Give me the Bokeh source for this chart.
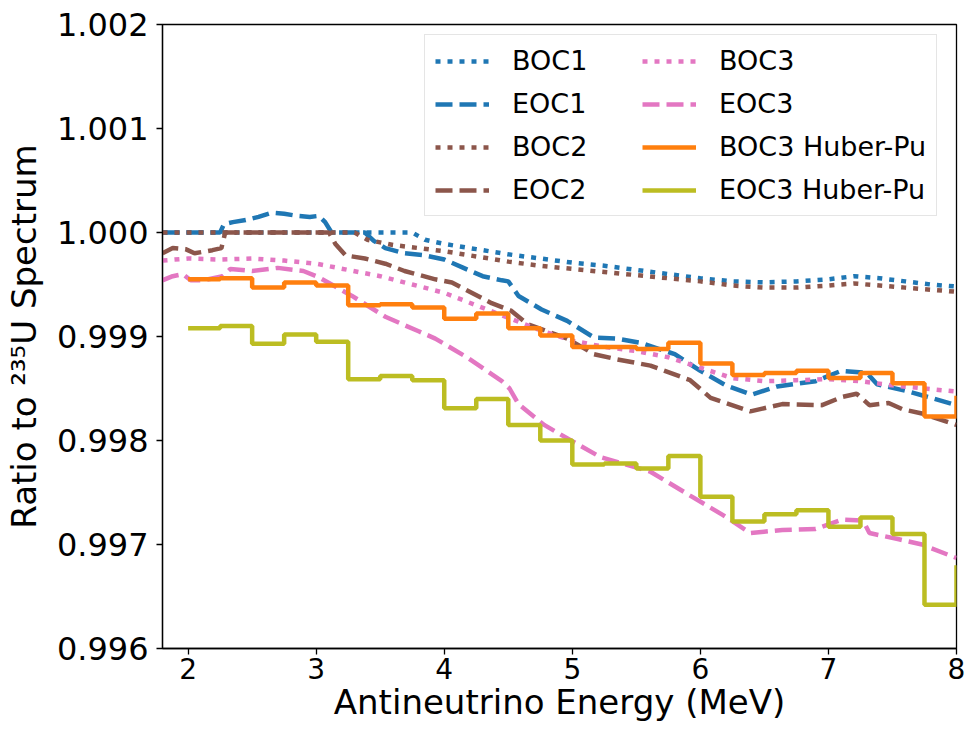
from bokeh.plotting import figure
from bokeh.models import Legend, LegendItem, FixedTicker, PrintfTickFormatter, Range1d
from bokeh.embed import file_html
from bokeh.resources import INLINE

# ---------------- data ----------------
XTICKS = [2, 3, 4, 5, 6, 7, 8]
YTICKS = [0.996, 0.997, 0.998, 0.999, 1.000, 1.001, 1.002]

E_BOC1 = [1.8, 3.75, 3.85, 4.0, 4.25, 4.5, 4.75, 5.0, 5.25, 5.5, 5.75, 6.0, 6.25,
          6.5, 6.75, 7.0, 7.2, 7.4, 7.6, 7.8, 8.0]
BOC1 = [1.0, 1.0, 0.99993, 0.99989, 0.99984, 0.99979, 0.99975, 0.99971, 0.99968,
        0.99964, 0.9996, 0.99956, 0.99953, 0.99952, 0.99953, 0.99955, 0.99958,
        0.99956, 0.99953, 0.9995, 0.99948]

E_EOC1 = [1.8, 2.25, 2.28, 2.35, 2.45, 2.55, 2.65, 2.75, 2.85, 2.95, 3.02, 3.07, 3.12,
          3.38, 3.45, 3.54, 3.69, 3.85, 4.0, 4.15, 4.3, 4.45, 4.5, 4.58, 4.76, 4.96,
          5.17, 5.35, 5.53, 5.8, 6.0, 6.2, 6.4, 6.6, 6.9, 7.1, 7.3, 7.38, 7.63, 7.8, 8.0]
EOC1 = [1.0, 1.0, 1.00008, 1.0001, 1.00012, 1.00015, 1.00019, 1.00018, 1.00016,
        1.00015, 1.00016, 1.0001, 1.0, 1.0, 0.99992, 0.99985, 0.9998, 0.99978,
        0.99974, 0.99966, 0.99958, 0.99954, 0.99953, 0.99939, 0.99926, 0.99915,
        0.99899, 0.99898, 0.99894, 0.99883, 0.99867, 0.99853, 0.99844, 0.99852,
        0.99857, 0.99867, 0.99865, 0.99854, 0.99847, 0.99841, 0.99834]

E_BOC2 = [1.8, 3.3, 3.4, 3.6, 3.8, 4.0, 4.25, 4.5, 4.75, 5.0, 5.25, 5.5, 5.75, 6.0,
          6.25, 6.5, 6.75, 7.0, 7.2, 7.4, 7.6, 7.8, 8.0]
BOC2 = [1.0, 1.0, 0.99993, 0.99988, 0.99985, 0.99982, 0.99977, 0.99972, 0.99968,
        0.99965, 0.99962, 0.99959, 0.99956, 0.99953, 0.99949, 0.99947, 0.99947,
        0.99949, 0.99951, 0.99949, 0.99947, 0.99945, 0.99943]

E_EOC2 = [1.8, 1.88, 1.98, 2.05, 2.19, 2.26, 2.29, 3.1, 3.15, 3.23, 3.38, 3.54, 3.69,
          3.93, 4.06, 4.37, 4.52, 4.65, 4.96, 5.17, 5.35, 5.61, 5.92, 6.08, 6.39,
          6.64, 6.95, 7.11, 7.22, 7.32, 7.47, 7.58, 7.73, 8.0]
EOC2 = [0.9998, 0.99985, 0.99984, 0.9998, 0.99983, 0.99985, 1.0, 1.0, 0.99989,
        0.99978, 0.99975, 0.9997, 0.99963, 0.99955, 0.99952, 0.99932, 0.99925,
        0.99912, 0.99898, 0.99883, 0.99878, 0.99872, 0.99858, 0.99841, 0.99828,
        0.99835, 0.99834, 0.99842, 0.99845, 0.99834, 0.99836, 0.9983, 0.99826, 0.99815]

E_BOC3 = [1.8, 2.0, 2.25, 2.5, 2.75, 3.0, 3.25, 3.5, 3.75, 4.0, 4.25, 4.5, 4.75, 5.0,
          5.25, 5.5, 5.75, 6.0, 6.25, 6.5, 6.75, 7.0, 7.25, 7.5, 7.75, 8.0]
BOC3 = [0.99973, 0.99975, 0.99974, 0.99975, 0.99973, 0.9997, 0.99964, 0.99958,
        0.9995, 0.99942, 0.9993, 0.99918, 0.99906, 0.99896, 0.9989, 0.99886, 0.9988,
        0.9987, 0.9986, 0.99857, 0.99858, 0.99859, 0.99857, 0.99853, 0.9985, 0.99847]

E_EOC3 = [1.8, 1.88, 1.96, 2.02, 2.12, 2.27, 2.33, 2.5, 2.7, 2.9, 3.02, 3.28, 3.54,
          3.8, 3.93, 4.19, 4.45, 4.51, 4.58, 4.78, 4.99, 5.22, 5.61, 5.92, 6.18, 6.39,
          6.64, 6.9, 7.11, 7.27, 7.32, 7.55, 7.73, 8.0]
EOC3 = [0.99954, 0.99958, 0.9996, 0.99954, 0.99954, 0.99958, 0.99965, 0.99963,
        0.99966, 0.99963, 0.99957, 0.99939, 0.99919, 0.99905, 0.99898, 0.99879,
        0.99857, 0.9985, 0.99835, 0.99815, 0.998, 0.99784, 0.9977, 0.99747, 0.99728,
        0.99711, 0.99714, 0.99715, 0.99724, 0.99723, 0.99711, 0.99705, 0.997, 0.99687]

# Huber-Pu step series: bin left edges (0.25 MeV bins) plus closing point at 8 MeV
E_HUBER = [2.0, 2.25, 2.5, 2.75, 3.0, 3.25, 3.5, 3.75, 4.0, 4.25, 4.5, 4.75, 5.0,
           5.25, 5.5, 5.75, 6.0, 6.25, 6.5, 6.75, 7.0, 7.25, 7.5, 7.75, 8.0]
BOC3_HUBER = [0.99955, 0.99956, 0.99947, 0.99952, 0.99949, 0.9993, 0.99931, 0.99928,
              0.99917, 0.99922, 0.99908, 0.99901, 0.9989, 0.9989, 0.99888, 0.99894,
              0.99874, 0.99863, 0.99865, 0.99867, 0.9986, 0.99865, 0.99855, 0.99823,
              0.99843]
EOC3_HUBER = [0.99908, 0.9991, 0.99893, 0.99902, 0.99895, 0.99859, 0.99862, 0.99858,
              0.99831, 0.9984, 0.99815, 0.998, 0.99777, 0.99778, 0.99773, 0.99785,
              0.99746, 0.99722, 0.99729, 0.99733, 0.99717, 0.99726, 0.9971, 0.99642,
              0.9968]

# ---------------- styles ----------------
FONT = "DejaVu Sans"
BLUE, BROWN, PINK, ORANGE, OLIVE = "#1f77b4", "#8c564b", "#e377c2", "#ff7f0e", "#bcbd22"
LW = 4.5
DOT = "5 7"
DASH = "17 7"

p = figure(width=966, height=728,
           x_range=Range1d(1.8, 8.0), y_range=Range1d(0.996, 1.002),
           output_backend="svg", toolbar_location=None,
           min_border_left=162, min_border_right=10,
           min_border_top=24, min_border_bottom=80)
p.grid.visible = False
p.outline_line_color = "black"
p.outline_line_width = 1.3
p.background_fill_color = "white"
p.border_fill_color = "white"

r_boc1 = p.line(E_BOC1, BOC1, line_color=BLUE, line_width=LW, line_dash=DOT)
r_eoc1 = p.line(E_EOC1, EOC1, line_color=BLUE, line_width=LW, line_dash=DASH)
r_boc2 = p.line(E_BOC2, BOC2, line_color=BROWN, line_width=LW, line_dash=DOT)
r_eoc2 = p.line(E_EOC2, EOC2, line_color=BROWN, line_width=LW, line_dash=DASH)
r_boc3 = p.line(E_BOC3, BOC3, line_color=PINK, line_width=LW, line_dash=DOT)
r_eoc3 = p.line(E_EOC3, EOC3, line_color=PINK, line_width=LW, line_dash=DASH)
r_bh = p.step(E_HUBER, BOC3_HUBER, mode="after", line_color=ORANGE, line_width=LW)
r_eh = p.step(E_HUBER, EOC3_HUBER, mode="after", line_color=OLIVE, line_width=LW)

# axes
for ax in (p.xaxis, p.yaxis):
    ax.axis_line_width = 1.3
    ax.axis_line_color = "black"
    ax.major_tick_line_width = 1.3
    ax.major_tick_line_color = "black"
    ax.major_tick_in = 0
    ax.major_tick_out = 6
    ax.minor_tick_line_color = None
    ax.major_label_text_font = FONT
    ax.major_label_text_color = "black"
    ax.axis_label_text_font = FONT
    ax.axis_label_text_font_style = "normal"
    ax.axis_label_text_color = "black"

p.xaxis.ticker = FixedTicker(ticks=XTICKS)
p.yaxis.ticker = FixedTicker(ticks=YTICKS)
p.yaxis.formatter = PrintfTickFormatter(format="%.3f")

p.xaxis.major_label_text_font_size = "28px"
p.xaxis.major_label_standoff = 3
p.xaxis.axis_label = "Antineutrino Energy (MeV)"
p.xaxis.axis_label_text_font_size = "34px"
p.xaxis.axis_label_standoff = 0

p.yaxis.major_label_text_font_size = "32px"
p.yaxis.major_label_standoff = 8
p.yaxis.axis_label = "Ratio to \u00b2\u00b3\u2075U Spectrum"
p.yaxis.axis_label_text_font_size = "34px"
p.yaxis.axis_label_standoff = 10

legend = Legend(items=[
    LegendItem(label="BOC1", renderers=[r_boc1]),
    LegendItem(label="EOC1", renderers=[r_eoc1]),
    LegendItem(label="BOC2", renderers=[r_boc2]),
    LegendItem(label="EOC2", renderers=[r_eoc2]),
    LegendItem(label="BOC3", renderers=[r_boc3]),
    LegendItem(label="EOC3", renderers=[r_eoc3]),
    LegendItem(label="BOC3 Huber-Pu", renderers=[r_bh]),
    LegendItem(label="EOC3 Huber-Pu", renderers=[r_eh]),
], ncols=2, location=(262, 432), margin=0)
legend.label_text_font = FONT
legend.label_text_font_size = "27px"
legend.label_text_color = "black"
legend.glyph_width = 54
legend.glyph_height = 30
legend.label_height = 30
legend.label_width = 118
legend.label_standoff = 23
legend.spacing = 12
legend.padding = 10
legend.border_line_color = "#cccccc"
legend.border_line_width = 1
legend.background_fill_color = "white"
legend.background_fill_alpha = 0.8
p.add_layout(legend)

open("out.html", "w").write(file_html(p, INLINE))
